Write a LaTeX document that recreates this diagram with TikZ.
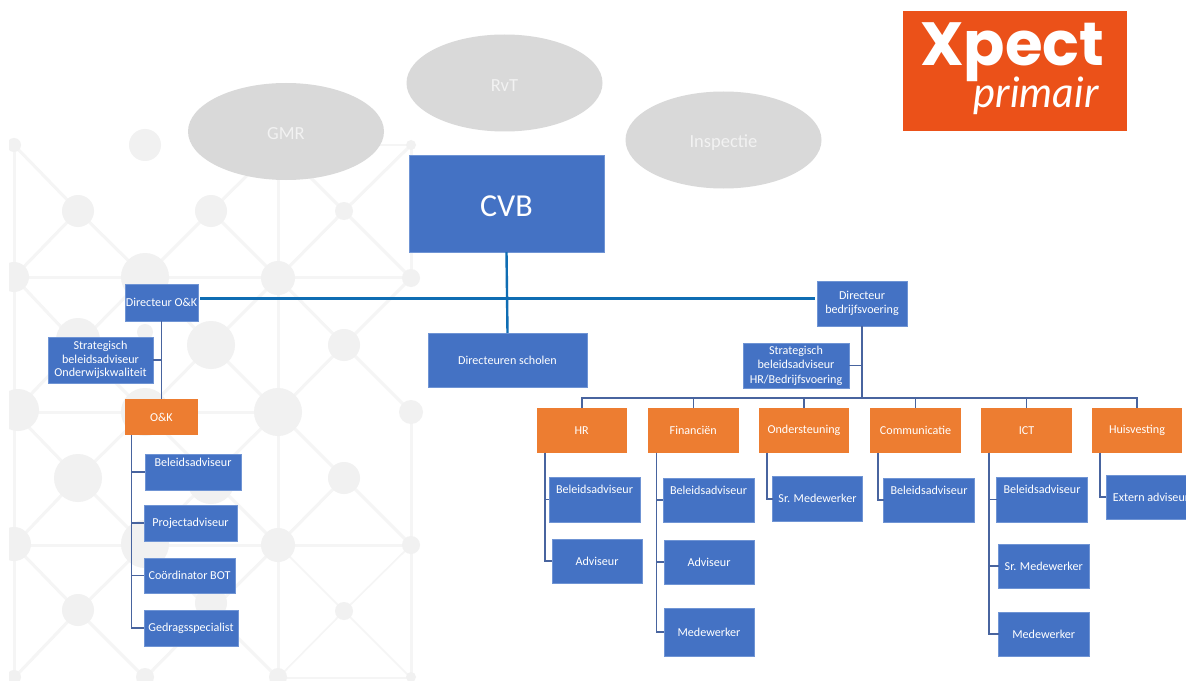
\documentclass[tikz,border=0pt]{standalone}
\usepackage{fontspec}
\setmainfont{Carlito}
\newfontfamily\logofont{Poppins}
\newfontfamily\handfont{Lato}
\usetikzlibrary{shapes.geometric}
\definecolor{boxblue}{HTML}{4472C4}
\definecolor{boxedge}{HTML}{6F94D4}
\definecolor{boxorange}{HTML}{ED7D31}
\definecolor{ovalgrey}{HTML}{D9D9D9}
\definecolor{logored}{HTML}{EB5119}
\definecolor{mainline}{HTML}{0F6DB3}
\definecolor{orgline}{HTML}{48649F}
\definecolor{bgdot}{HTML}{F1F1F1}
\definecolor{bgline}{HTML}{F5F5F5}
\newcommand{\fs}[1]{\fontsize{#1}{#1}\selectfont}
\newcommand{\fsl}[2]{\fontsize{#1}{#2}\selectfont}
\newcommand{\lift}[2][10pt]{\vphantom{#2}\smash{\raisebox{#1}{#2}}}
\newcommand{\bx}[6][blue box]{%
  \pgfmathsetmacro{\bxw}{#5-#3}\pgfmathsetmacro{\bxh}{#6-#4}%
  \pgfmathsetmacro{\bxx}{(#3+#5)/2}\pgfmathsetmacro{\bxy}{(#4+#6)/2}%
  \node[#1,minimum width=\bxw pt,minimum height=\bxh pt] (#2) at (\bxx,\bxy)}
\tikzset{
  base box/.style={rectangle,inner sep=0pt,outer sep=0pt,text=white,align=center,font=\fs{12.1}},
  blue box/.style={base box,fill=boxblue,draw=boxedge,line width=.5pt},
  orange box/.style={base box,fill=boxorange},
  oval/.style={ellipse,fill=ovalgrey,inner sep=0pt,outer sep=0pt,minimum width=196pt,minimum height=97pt,text=white!95!black,font=\fs{18.5}},
  main link/.style={draw=mainline,line width=2.4pt},
  org link/.style={draw=orgline,line width=1.5pt},
  bg edge/.style={draw=bgline,line width=3pt},
  bg thin/.style={draw=bgline,line width=1.6pt},
}
\begin{document}
\begin{tikzpicture}[x=1pt,y=-1pt]
\path[use as bounding box] (0,0) rectangle (1186,682);
\clip (0,0) rectangle (1186,682);
\fill[white] (0,0) rectangle (1186,682);
% background lattice
\begin{scope}
\clip (9,128) rectangle (1186,680);
\foreach \a/\b/\c/\d in {14/145/14/678, 278/145/278/678, 411/145/411/278, 411/411/411/678,
  14/277/411/277, 14/412/278/412, 14/545/411/545,
  14/145/78/211, 78/211/14/277, 78/211/145/277, 145/277/211/211, 211/211/278/145,
  211/211/278/278, 278/278/344/211, 344/211/278/145, 344/211/411/145, 344/211/411/278,
  14/277/78/345, 145/277/78/345, 145/277/211/345, 278/278/211/345, 278/278/344/345, 411/278/344/345,
  14/412/78/345, 145/412/78/345, 145/412/211/345, 278/412/211/345, 278/412/344/345, 411/412/344/345,
  14/412/78/478, 145/412/78/478, 145/412/211/478, 278/412/211/478, 278/412/344/478,
  14/545/78/478, 145/545/78/478, 145/545/211/478, 278/545/211/478, 278/545/344/478, 411/545/344/478,
  14/545/78/611, 145/545/78/611, 145/545/211/611, 278/545/211/611, 14/678/78/611, 145/678/78/611, 278/678/211/611, 145/678/211/611}
  \draw[bg edge] (\a,\b) -- (\c,\d);
\foreach \a/\b/\c/\d in {278/145/411/145, 278/545/344/611, 411/545/344/611, 278/678/344/611, 411/678/344/611, 278/678/411/678}
  \draw[bg thin] (\a,\b) -- (\c,\d);
\foreach \a/\b/\r in {14/145/7, 145/145/16, 78/211/16, 211/211/16, 344/211/9, 411/145/5,
  14/277/15, 145/277/24, 278/278/17, 411/278/9,
  78/340/22, 145/332/8, 211/345/24, 344/345/16,
  18/410/21, 145/412/24, 278/412/24, 411/412/12,
  78/478/24, 211/480/24, 344/478/16,
  14/544/17, 145/544/24, 278/545/17, 411/545/9,
  78/610/16, 211/603/16, 344/611/9,
  14/677/7, 145/677/9, 278/677/9, 411/677/5}
  \fill[bgdot] (\a,\b) circle[radius=\r];
\end{scope}
% logo
\node[rectangle,fill=logored,minimum width=224pt,minimum height=120pt,inner sep=0pt,outer sep=0pt] (logo) at (1015,71) {};
\node[text=white,font={\logofont\fontsize{61}{61}\selectfont\bfseries},inner sep=0pt,anchor=base] (xpect) at (1012.5,66) {Xpect};
\node[text=white,font={\handfont\fontsize{42}{42}\selectfont\itshape},inner sep=0pt,anchor=base] (primair) at (1036,108) {primair};
% ovals
\node[oval] (gmr) at (286,131.5) {\lift[-2.5pt]{GMR}};
\node[oval] (rvt) at (504.5,83) {\lift[-2.5pt]{RvT}};
\node[oval] (insp) at (723.5,140) {\lift[-2.5pt]{Inspectie}};
% top level
\bx{cvb}{409}{155}{604}{252}[font=\fs{32}]{\lift[-2.5pt]{CVB}};
\bx{scholen}{428}{333}{587}{387}{Directeuren scholen};
\bx{dirok}{125}{284}{198}{321}{Directeur O\&K};
\bx{stratok}{48}{337}{153}{383}[font=\fsl{12.1}{13.2}]{Strategisch\\beleidsadviseur\\Onderwijskwaliteit};
\bx[orange box]{ok}{125}{399}{198}{435}{O\&K};
\bx{okA}{145}{454}{241}{490}{\lift{Beleidsadviseur}};
\bx{okB}{144}{505}{237}{541}{Projectadviseur};
\bx{okC}{144}{558}{235}{593}{Coördinator BOT};
\bx{okD}{144}{610}{238}{646}{Gedragsspecialist};
\bx{dirb}{817}{281}{907}{326}[font=\fsl{12.1}{14}]{Directeur\\bedrijfsvoering};
\bx{stratb}{743}{343}{849}{388}[font=\fsl{12.1}{14.5}]{Strategisch\\beleidsadviseur\\HR/Bedrijfsvoering};
% departments
\bx[orange box]{hr}{536.5}{408}{627}{452.5}{HR};
\bx[orange box]{fin}{648}{408}{738.5}{452.5}{Financiën};
\bx[orange box]{ond}{759}{408}{849}{452.5}{Ondersteuning};
\bx[orange box]{com}{870}{408}{961}{452.5}{Communicatie};
\bx[orange box]{ict}{981}{408}{1072}{452.5}{ICT};
\bx[orange box]{huis}{1092}{408}{1182}{452.5}{Huisvesting};
% staff
\bx{hrA}{549}{477}{640}{522}{\lift{Beleidsadviseur}};
\bx{hrB}{552}{539}{642}{583}{Adviseur};
\bx{finA}{663}{478}{754}{522}{\lift{Beleidsadviseur}};
\bx{finB}{664}{540}{754}{584}{Adviseur};
\bx{finC}{664}{608}{754}{656}{Medewerker};
\bx{ondA}{772.5}{476.5}{862.5}{521}{Sr. Medewerker};
\bx{comA}{883.5}{478}{974.5}{522}{\lift{Beleidsadviseur}};
\bx{ictA}{996.5}{477}{1087.5}{522}{\lift{Beleidsadviseur}};
\bx{ictB}{998.5}{544}{1089}{588}{Sr. Medewerker};
\bx{ictC}{998.5}{612}{1089}{656}{Medewerker};
\bx{huisA}{1106}{475}{1196}{519}{Extern adviseur};
% connectors: top
\draw[main link] (cvb.south) -- (scholen.north);
\draw[main link,shorten <=2pt,shorten >=2pt] ([yshift=4pt]dirok.east) -- ([yshift=5pt]dirb.west);
% connectors: O&K
\draw[org link] (dirok.south) -- (ok.north);
\draw[org link] (stratok.east) -- (stratok.east -| dirok.south);
\foreach \c in {okA,okB,okC,okD}
  \draw[org link] ([xshift=6.5pt]ok.south west) |- (\c.west);
% connectors: bedrijfsvoering
\coordinate (bus) at (862,398);
\draw[org link] (dirb.south) -- (bus);
\draw[org link] (stratb.east) -- (stratb.east -| dirb.south);
\foreach \c in {hr,fin,ond,com,ict,huis}
  \draw[org link] (bus) -| (\c.north);
\foreach \c in {hrA,hrB}
  \draw[org link] ([xshift=8.5pt]hr.south west) |- (\c.west);
\foreach \c in {finA,finB,finC}
  \draw[org link] ([xshift=8.5pt]fin.south west) |- (\c.west);
\draw[org link] ([xshift=8pt]ond.south west) |- (ondA.west);
\draw[org link] ([xshift=8pt]com.south west) |- (comA.west);
\foreach \c in {ictA,ictB,ictC}
  \draw[org link] ([xshift=8pt]ict.south west) |- (\c.west);
\draw[org link] ([xshift=8pt]huis.south west) |- (huisA.west);
\end{tikzpicture}
\end{document}
